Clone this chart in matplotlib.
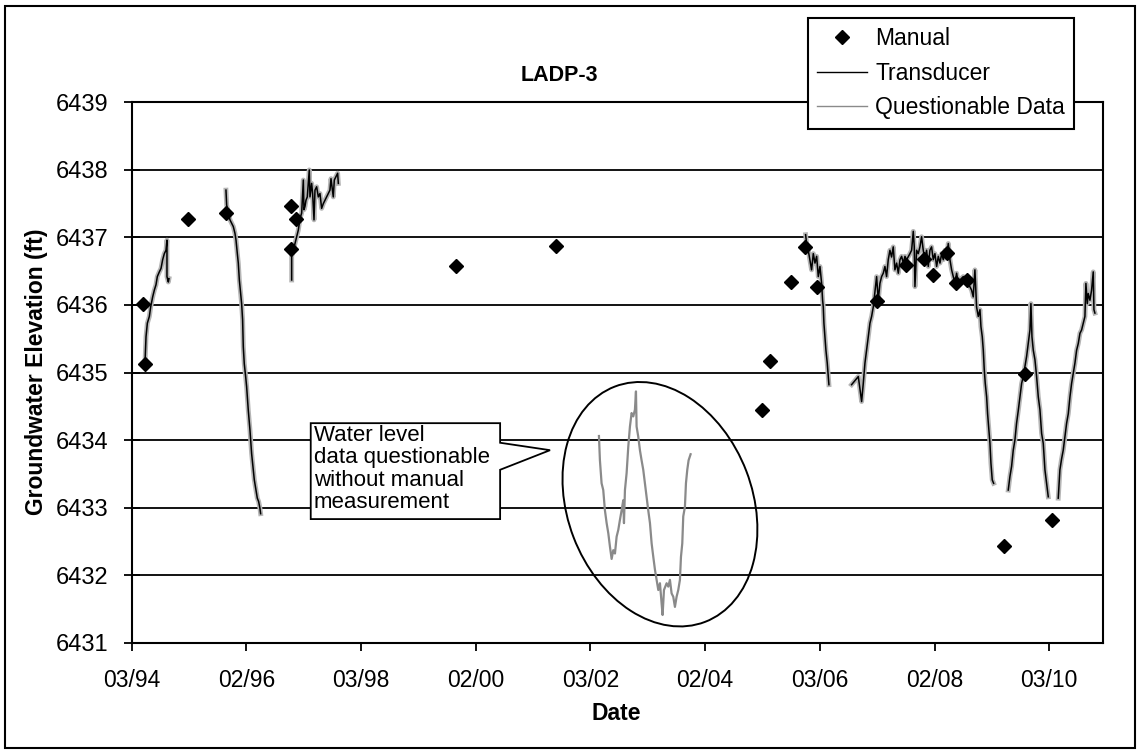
import numpy as np
import matplotlib
matplotlib.use("Agg")
import matplotlib.pyplot as plt
from matplotlib.patches import Ellipse, Polygon, Rectangle
from matplotlib.transforms import ScaledTranslation

plt.rcParams["font.family"] = ["Liberation Sans", "DejaVu Sans"]

# Dane (rok dziesiętny, wysokość w stopach)
manual_yr = [1994.37, 1994.40, 1995.16, 1995.81, 1996.94, 1997.03, 1996.95,
             1999.82, 2001.56, 2005.16, 2005.29, 2005.66, 2005.91, 2006.12,
             2007.15, 2007.66, 2007.98, 2008.14, 2008.37, 2008.53, 2008.72,
             2009.74, 2010.20, 2009.37]
manual_elev = [6436.01, 6435.13, 6437.28, 6437.36, 6437.46, 6437.28, 6436.83,
               6436.58, 6436.87, 6434.45, 6435.17, 6436.34, 6436.86, 6436.27,
               6436.06, 6436.59, 6436.68, 6436.44, 6436.77, 6436.32, 6436.37,
               6434.98, 6432.81, 6432.43]

# Transducer - kolejne odcinki pomiarów
trans_a_yr = [1994.402, 1994.420, 1994.443, 1994.478, 1994.501, 1994.536, 1994.565,
              1994.594, 1994.617, 1994.652, 1994.681, 1994.710, 1994.739, 1994.768,
              1994.785, 1994.785, 1994.809, 1994.820]
trans_a_elev = [6435.14, 6435.53, 6435.73, 6435.83, 6435.97, 6436.12, 6436.22,
                6436.30, 6436.42, 6436.49, 6436.54, 6436.67, 6436.76, 6436.81,
                6436.96, 6436.42, 6436.34, 6436.39]

trans_b_yr = [1995.813, 1995.825, 1995.854, 1995.883, 1995.912, 1995.941, 1995.970,
              1995.988, 1995.999, 1996.011, 1996.028, 1996.046, 1996.069, 1996.086,
              1996.103, 1996.115, 1996.132, 1996.156, 1996.173, 1996.202, 1996.231,
              1996.243, 1996.260, 1996.289, 1996.307, 1996.336, 1996.359, 1996.382,
              1996.405, 1996.417]
trans_b_elev = [6437.70, 6437.48, 6437.36, 6437.26, 6437.21, 6437.16, 6437.06,
                6436.96, 6436.86, 6436.76, 6436.62, 6436.37, 6436.17, 6436.02,
                6435.78, 6435.38, 6435.13, 6434.94, 6434.79, 6434.44, 6434.15,
                6434.00, 6433.80, 6433.56, 6433.41, 6433.26, 6433.14, 6433.09,
                6432.99, 6432.91]

trans_c_yr = [1996.958, 1996.958, 1996.987, 1997.016, 1997.045, 1997.074, 1997.091,
              1997.114, 1997.132, 1997.161, 1997.172, 1997.190, 1997.207, 1997.230,
              1997.248, 1997.265, 1997.277, 1997.306, 1997.323, 1997.347, 1997.364,
              1997.393, 1997.422, 1997.451, 1997.480, 1997.509, 1997.538, 1997.567,
              1997.596, 1997.625, 1997.643, 1997.683, 1997.701, 1997.730, 1997.759,
              1997.771]
trans_c_elev = [6436.37, 6436.72, 6436.81, 6436.91, 6437.01, 6437.11, 6437.21,
                6437.31, 6437.36, 6437.85, 6437.41, 6437.46, 6437.55, 6437.60,
                6437.80, 6438.00, 6437.60, 6437.80, 6437.65, 6437.26, 6437.70,
                6437.75, 6437.60, 6437.65, 6437.43, 6437.50, 6437.55, 6437.60,
                6437.65, 6437.70, 6437.87, 6437.60, 6437.85, 6437.90, 6437.95,
                6437.80]

trans_d_yr = [2005.913, 2005.930, 2005.959, 2005.988, 2006.017, 2006.047, 2006.076,
              2006.105, 2006.134, 2006.163, 2006.192, 2006.209, 2006.221, 2006.232,
              2006.250, 2006.267, 2006.290, 2006.308, 2006.319]
trans_d_elev = [6437.04, 6436.91, 6436.81, 6436.66, 6436.52, 6436.76, 6436.62,
                6436.72, 6436.42, 6436.57, 6436.32, 6436.07, 6435.97, 6435.73,
                6435.53, 6435.33, 6435.14, 6434.94, 6434.82]

trans_e_yr = [2006.714, 2006.831, 2006.889, 2006.918, 2006.947, 2006.976, 2007.005,
              2007.034, 2007.063, 2007.092, 2007.150, 2007.179, 2007.208, 2007.237,
              2007.266, 2007.295, 2007.324, 2007.353, 2007.382, 2007.411, 2007.440,
              2007.469, 2007.499, 2007.528, 2007.557, 2007.586, 2007.615, 2007.644,
              2007.673, 2007.731, 2007.760, 2007.789, 2007.806, 2007.818, 2007.847,
              2007.876, 2007.905, 2007.934, 2007.963, 2007.992, 2008.021, 2008.050,
              2008.079, 2008.108, 2008.137, 2008.166, 2008.196, 2008.225, 2008.254,
              2008.283, 2008.312, 2008.341, 2008.370, 2008.399, 2008.428, 2008.457,
              2008.486, 2008.515, 2008.544, 2008.573, 2008.602, 2008.660, 2008.718,
              2008.776, 2008.805, 2008.834, 2008.863, 2008.892, 2008.922, 2008.951,
              2008.968, 2008.991, 2009.009, 2009.026, 2009.043, 2009.067, 2009.084,
              2009.102, 2009.125, 2009.142, 2009.165, 2009.189]
trans_e_elev = [6434.82, 6434.94, 6434.57, 6434.84, 6435.14, 6435.33, 6435.53,
                6435.73, 6435.83, 6435.97, 6436.42, 6436.07, 6436.32, 6436.42,
                6436.47, 6436.57, 6436.42, 6436.67, 6436.81, 6436.71, 6436.86,
                6436.52, 6436.62, 6436.47, 6436.67, 6436.72, 6436.62, 6436.72,
                6436.67, 6436.76, 6436.81, 6437.09, 6436.86, 6436.27, 6436.81,
                6436.76, 6436.86, 6437.01, 6436.81, 6436.67, 6436.81, 6436.57,
                6436.81, 6436.86, 6436.67, 6436.76, 6436.57, 6436.72, 6436.62,
                6436.76, 6436.67, 6436.81, 6436.72, 6436.91, 6436.67, 6436.52,
                6436.42, 6436.32, 6436.47, 6436.32, 6436.37, 6436.42, 6436.32,
                6436.27, 6436.22, 6436.12, 6436.52, 6435.97, 6435.83, 6435.93,
                6435.68, 6435.53, 6435.33, 6435.04, 6434.84, 6434.64, 6434.39,
                6434.20, 6433.95, 6433.66, 6433.41, 6433.36]

trans_f_yr = [2009.444, 2009.473, 2009.502, 2009.531, 2009.560, 2009.589, 2009.619,
              2009.648, 2009.677, 2009.706, 2009.735, 2009.764, 2009.793, 2009.822,
              2009.839, 2009.857, 2009.880, 2009.909, 2009.938, 2009.967, 2009.996,
              2010.025, 2010.054, 2010.083, 2010.112, 2010.141]
trans_f_elev = [6433.26, 6433.46, 6433.61, 6433.85, 6434.00, 6434.25, 6434.44,
                6434.64, 6434.84, 6434.94, 6435.09, 6435.24, 6435.43, 6435.63,
                6436.02, 6435.53, 6435.33, 6435.19, 6434.94, 6434.64, 6434.45,
                6434.10, 6433.95, 6433.56, 6433.36, 6433.16]

trans_g_yr = [2010.315, 2010.344, 2010.373, 2010.402, 2010.432, 2010.461, 2010.490,
              2010.519, 2010.548, 2010.577, 2010.606, 2010.635, 2010.664, 2010.693,
              2010.722, 2010.751, 2010.780, 2010.797, 2010.821, 2010.838, 2010.867,
              2010.896, 2010.925, 2010.937, 2010.954]
trans_g_elev = [6433.14, 6433.56, 6433.72, 6433.85, 6434.05, 6434.25, 6434.39,
                6434.64, 6434.84, 6434.99, 6435.14, 6435.33, 6435.43, 6435.58,
                6435.63, 6435.73, 6435.83, 6436.32, 6436.02, 6436.17, 6436.07,
                6436.22, 6436.49, 6435.93, 6435.88]

# Dane wątpliwe (2002-2004)
quest_yr = [2002.312, 2002.329, 2002.358, 2002.387, 2002.416, 2002.446, 2002.475,
            2002.504, 2002.533, 2002.562, 2002.591, 2002.620, 2002.649, 2002.678,
            2002.707, 2002.736, 2002.748, 2002.765, 2002.794, 2002.823, 2002.852,
            2002.881, 2002.910, 2002.939, 2002.957, 2002.968, 2002.997, 2003.026,
            2003.055, 2003.084, 2003.113, 2003.142, 2003.171, 2003.201, 2003.230,
            2003.259, 2003.288, 2003.317, 2003.346, 2003.375, 2003.404, 2003.421,
            2003.445, 2003.491, 2003.520, 2003.549, 2003.578, 2003.607, 2003.636,
            2003.665, 2003.694, 2003.723, 2003.741, 2003.764, 2003.781, 2003.810,
            2003.828, 2003.851, 2003.874, 2003.909]
quest_elev = [6434.06, 6433.70, 6433.36, 6433.26, 6432.96, 6432.77, 6432.62,
              6432.42, 6432.24, 6432.37, 6432.32, 6432.57, 6432.67, 6432.82,
              6432.96, 6433.11, 6432.77, 6433.26, 6433.51, 6433.90, 6434.20,
              6434.40, 6434.35, 6434.45, 6434.72, 6434.20, 6434.05, 6433.85,
              6433.70, 6433.56, 6433.36, 6433.16, 6432.96, 6432.77, 6432.47,
              6432.27, 6432.08, 6431.93, 6431.78, 6431.88, 6431.58, 6431.41,
              6431.78, 6431.88, 6431.83, 6431.93, 6431.73, 6431.68, 6431.53,
              6431.68, 6431.78, 6431.93, 6432.27, 6432.47, 6432.87, 6433.01,
              6433.36, 6433.56, 6433.70, 6433.79]

tick_labels = ["03/94", "02/96", "03/98", "02/00", "03/02",
               "02/04", "03/06", "02/08", "03/10"]
start_year = 1994.17
end_year = 2011.09


def polacz(odcinki):
    xs, ys = [], []
    for x, y in odcinki:
        xs += list(x) + [np.nan]
        ys += list(y) + [np.nan]
    return np.array(xs), np.array(ys)


trans_x, trans_y = polacz([
    (trans_a_yr, trans_a_elev), (trans_b_yr, trans_b_elev),
    (trans_c_yr, trans_c_elev), (trans_d_yr, trans_d_elev),
    (trans_e_yr, trans_e_elev), (trans_f_yr, trans_f_elev),
    (trans_g_yr, trans_g_elev),
])

fig = plt.figure(figsize=(11.4, 7.53), dpi=100)
ax = fig.add_axes([0.1155, 0.1465, 0.8518, 0.7176])

ax.set_axisbelow(True)
ax.grid(axis="y", color="black", linewidth=1.3)

# szara "mgiełka" pod czarną linią przetwornika
ax.plot(trans_x, trans_y, color="#b5b5b5", linewidth=3.5, zorder=2)
ax.plot(trans_x, trans_y, color="black", linewidth=1.1, zorder=3,
        label="Transducer")
ax.plot(quest_yr, quest_elev, color="#8a8a8a", linewidth=1.6, zorder=3,
        label="Questionable Data")
ax.plot(manual_yr, manual_elev, linestyle="none", marker="D", color="black",
        markersize=7.5, zorder=4, label="Manual")

ax.set_xlim(start_year, end_year)
ax.set_ylim(6431, 6439)
ax.set_yticks(range(6431, 6440))
ax.set_xticks(start_year + np.arange(len(tick_labels)) * 730 / 365.25)
ax.set_xticklabels(tick_labels)

for s in ax.spines.values():
    s.set_linewidth(1.5)
ax.tick_params(axis="y", direction="inout", length=12, width=1.3,
               labelsize=17, pad=11)
ax.tick_params(axis="x", direction="out", length=6, width=1.3,
               labelsize=16.5, pad=13)

# elipsa wokół danych wątpliwych
el = Ellipse((0, 0), width=2.52, height=1.85, angle=111, fill=False,
             edgecolor="black", linewidth=1.4,
             transform=fig.dpi_scale_trans
             + ScaledTranslation(2003.375, 6433.05, ax.transData))
ax.add_patch(el)

# dymek z opisem
dymek = Polygon([(1997.29, 6434.25), (2000.59, 6434.25), (2000.59, 6433.96),
                 (2001.46, 6433.85), (2000.59, 6433.56), (2000.59, 6432.83),
                 (1997.29, 6432.83)], closed=True, facecolor="white",
                edgecolor="black", linewidth=1.3, zorder=5)
ax.add_patch(dymek)
ax.text(1997.34, 6434.22, "Water level\ndata questionable\nwithout manual\nmeasurement",
        ha="left", va="top", fontsize=16, linespacing=1.08, zorder=6)

fig.text(0.491, 0.900, "LADP-3", ha="center", va="center",
         fontsize=15.5, fontweight="bold")
fig.text(0.541, 0.052, "Date", ha="center", va="center",
         fontsize=16.5, fontweight="bold")
fig.text(0.032, 0.506, "Groundwater Elevation (ft)", ha="center", va="center",
         rotation=90, fontsize=16.5, fontweight="bold")

uchwyty, etykiety = ax.get_legend_handles_labels()
kolejnosc = [2, 0, 1]
leg = fig.legend([uchwyty[i] for i in kolejnosc], [etykiety[i] for i in kolejnosc],
                 loc="upper left", bbox_to_anchor=(0.7085, 0.9757),
                 fontsize=16.5, frameon=True, fancybox=False, framealpha=1,
                 edgecolor="black", borderpad=0.4, labelspacing=0.5,
                 handlelength=2.2, handletextpad=0.35, borderaxespad=0,
                 numpoints=1)
leg.get_frame().set_linewidth(1.5)
for h in leg.legend_handles:
    if hasattr(h, "set_linewidth"):
        h.set_linewidth(1.0)

# ramka całego wykresu
fig.patches.append(Rectangle((0.004, 0.007), 0.992, 0.985, fill=False,
                             edgecolor="black", linewidth=1.5,
                             transform=fig.transFigure, figure=fig))

fig.savefig("out.png", dpi=100)
